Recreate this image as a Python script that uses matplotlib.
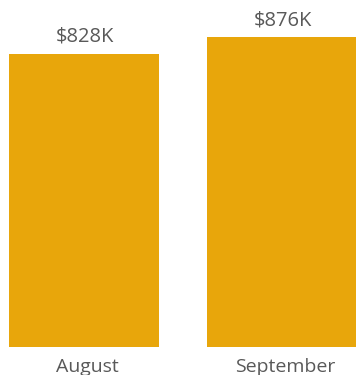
import matplotlib
matplotlib.use("Agg")
import matplotlib.pyplot as plt

months = ["August", "September"]
revenue_k = [828, 876]
value_labels = ["$828K", "$876K"]

BAR_COLOR = "#E8A60B"
TEXT_COLOR = "#595959"
DPI = 100

plt.rcParams["font.family"] = ["Open Sans", "DejaVu Sans"]

fig = plt.figure(figsize=(3.56, 3.75), dpi=DPI)
ax = fig.add_axes([0, 28 / 375, 1, 347 / 375])

x = list(range(len(months)))
ax.bar(x, revenue_k, width=0.758, color=BAR_COLOR)

px = 72 / DPI
for xi, v, lab in zip(x, revenue_k, value_labels):
    ax.annotate(lab, (xi, v), xytext=(0.5 * px, 12 * px), textcoords="offset points",
                ha="center", va="baseline", fontsize=14.5, color=TEXT_COLOR,
                annotation_clip=False)
for xi, m in zip(x, months):
    ax.annotate(m, (xi, 0), xytext=(3.5 * px, -24.7 * px), textcoords="offset points",
                ha="center", va="baseline", fontsize=14, color=TEXT_COLOR,
                annotation_clip=False)

ax.set_xlim(-84 / 198, 272 / 198)
ax.set_ylim(0, 980.6)
ax.axis("off")

fig.savefig("out.png", dpi=DPI)
